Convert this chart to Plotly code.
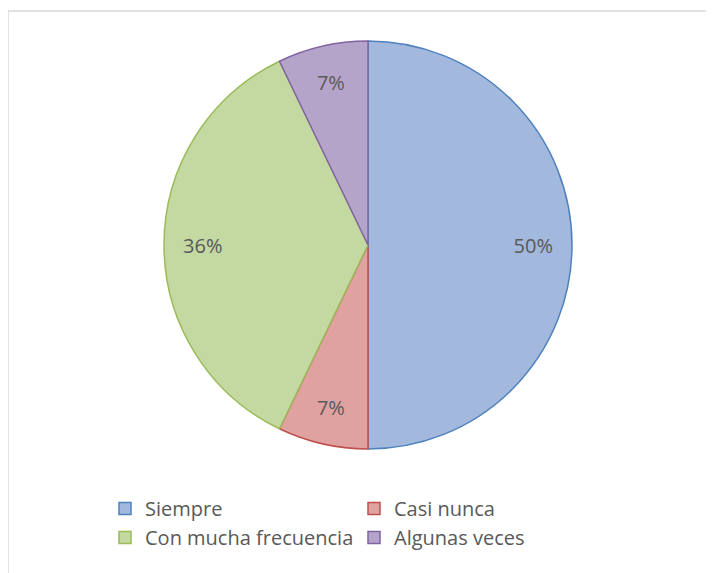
import plotly.graph_objects as go

# respuestas (conteo)
labels = ['Siempre', 'Casi nunca', 'Con mucha frecuencia', 'Algunas veces']
values = [14, 2, 10, 2]

fills = ['#a2b8dd', '#dfa2a1', '#c4d8a2', '#b5a4c9']
lines = ['#4f81bd', '#c0504d', '#9bbb59', '#8064a2']

W, H = 714, 573
# the page adds an 8px body margin, so positions are shifted by 8px
OFF = 8
dom = dict(x=[(164 - OFF) / W, (572 - OFF) / W],
           y=[1 - (449 - OFF) / H, 1 - (41 - OFF) / H])

fig = go.Figure()
fig.add_trace(go.Pie(
    labels=labels,
    values=values,
    sort=False,
    direction='clockwise',
    rotation=0,
    textinfo='none',
    marker=dict(colors=fills, line=dict(color=lines, width=1.5)),
    domain=dom,
    hoverinfo='label+percent',
))
# transparent ring on top, only to place the percentage labels near the rim
fig.add_trace(go.Pie(
    labels=labels,
    values=values,
    sort=False,
    direction='clockwise',
    rotation=0,
    hole=0.62,
    texttemplate='%{percent:.0%}',
    textposition='inside',
    insidetextorientation='horizontal',
    textfont=dict(size=20, color='#595959', family='Open Sans'),
    marker=dict(colors=['rgba(0,0,0,0)'] * 4, line=dict(width=0)),
    domain=dom,
    showlegend=False,
    hoverinfo='skip',
))

# marco gris del area del grafico
fig.add_shape(type='line', xref='paper', yref='paper',
              x0=0, x1=1, y0=1 - 3 / H, y1=1 - 3 / H,
              line=dict(color='#d9d9d9', width=1.5))
fig.add_shape(type='line', xref='paper', yref='paper',
              x0=0, x1=0, y0=0, y1=1 - 3 / H,
              line=dict(color='#d9d9d9', width=1.5))

fig.update_layout(
    width=W, height=H,
    margin=dict(l=0, r=0, t=0, b=0),
    paper_bgcolor='white',
    plot_bgcolor='white',
    font=dict(family='Open Sans', color='#595959'),
    legend=dict(
        orientation='h',
        x=97 / W, xanchor='left',
        y=1 - 481 / H, yanchor='top',
        entrywidth=204, entrywidthmode='pixels',
        font=dict(size=20, color='#595959'),
        traceorder='normal',
    ),
)

fig.write_html('out.html')
